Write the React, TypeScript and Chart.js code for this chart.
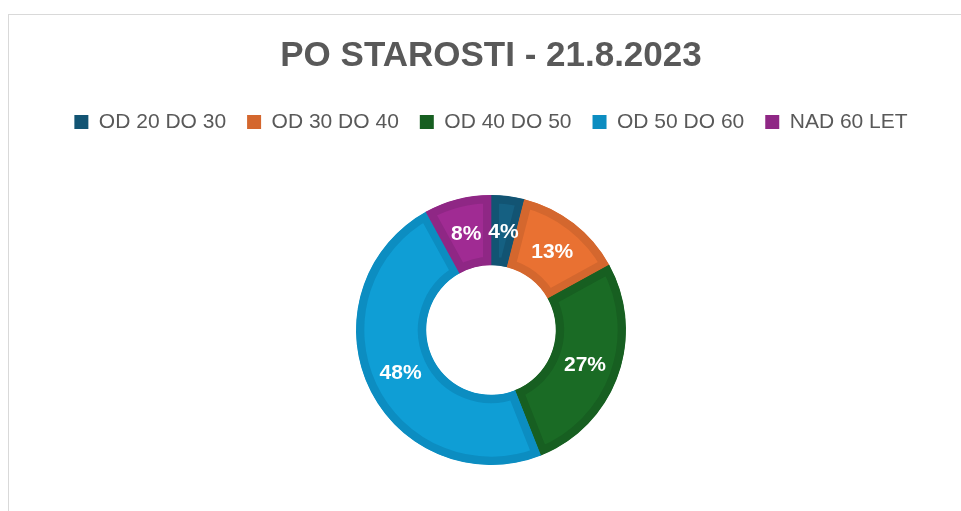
import React, { useEffect, useRef } from 'react';
import { Chart, registerables } from 'chart.js';

Chart.register(...registerables);

const titleText = 'PO STAROSTI - 21.8.2023';
const categories = ['OD 20 DO 30', 'OD 30 DO 40', 'OD 40 DO 50', 'OD 50 DO 60', 'NAD 60 LET'];
const shares = [4, 13, 27, 48, 8];
const fillColors = ['#156082', '#E97132', '#1A6B25', '#0F9ED5', '#A02B93'];
const edgeColors = ['#125473', '#D4672E', '#175F21', '#0C8DC1', '#8F2785'];

const FONT = '"Liberation Sans", Arial, sans-serif';

const sliceLabels = {
  id: 'sliceLabels',
  afterDatasetsDraw(chart: any) {
    const ctx = chart.ctx;
    const meta = chart.getDatasetMeta(0);
    const data = chart.data.datasets[0].data as number[];
    ctx.save();
    ctx.font = 'bold 21px ' + FONT;
    ctx.fillStyle = '#ffffff';
    ctx.textAlign = 'center';
    ctx.textBaseline = 'middle';
    meta.data.forEach((arc: any, i: number) => {
      const p = arc.tooltipPosition(false);
      ctx.fillText(data[i] + '%', p.x, p.y + 1);
    });
    ctx.restore();
  },
};

export default function App() {
  const ref = useRef<HTMLCanvasElement | null>(null);

  useEffect(() => {
    if (!ref.current) return;
    Chart.defaults.font.family = FONT;
    const chart = new Chart(ref.current, {
      type: 'doughnut',
      data: {
        labels: categories,
        datasets: [
          {
            data: shares,
            backgroundColor: fillColors,
            borderColor: edgeColors,
            borderWidth: 8,
            borderAlign: 'inner',
            hoverOffset: 0,
          },
        ],
      },
      options: {
        animation: false,
        responsive: false,
        maintainAspectRatio: false,
        cutout: '48%',
        layout: { padding: { left: 12, right: 0, top: 0, bottom: 46 } },
        plugins: {
          tooltip: { enabled: false },
          title: {
            display: true,
            text: titleText,
            color: '#595959',
            font: { size: 35, weight: 'bold', family: FONT },
            padding: { top: 20.5, bottom: 13 },
          },
          legend: {
            display: true,
            position: 'top',
            labels: {
              boxWidth: 14,
              boxHeight: 14,
              padding: 21,
              color: '#595959',
              font: { size: 21, family: FONT },
              generateLabels: () =>
                categories.map((c, i) => ({
                  text: c,
                  fillStyle: edgeColors[i],
                  strokeStyle: edgeColors[i],
                  lineWidth: 0,
                  hidden: false,
                  index: i,
                  fontColor: '#595959',
                })),
            },
          },
          subtitle: {
            display: true,
            text: '',
            weight: 500,
            position: 'top',
            font: { size: 10, lineHeight: 1 },
            padding: { top: 42.5, bottom: 0 },
          },
        },
      } as any,
      plugins: [sliceLabels],
    });
    return () => chart.destroy();
  }, []);

  return (
    <div
      style={{
        position: 'fixed',
        left: 8,
        top: 14,
        borderTop: '1px solid #d9d9d9',
        borderLeft: '1px solid #d9d9d9',
        width: 952,
        height: 496,
        background: '#ffffff',
      }}
    >
      <canvas ref={ref} width={952} height={496} style={{ display: 'block', width: 952, height: 496 }} />
    </div>
  );
}
